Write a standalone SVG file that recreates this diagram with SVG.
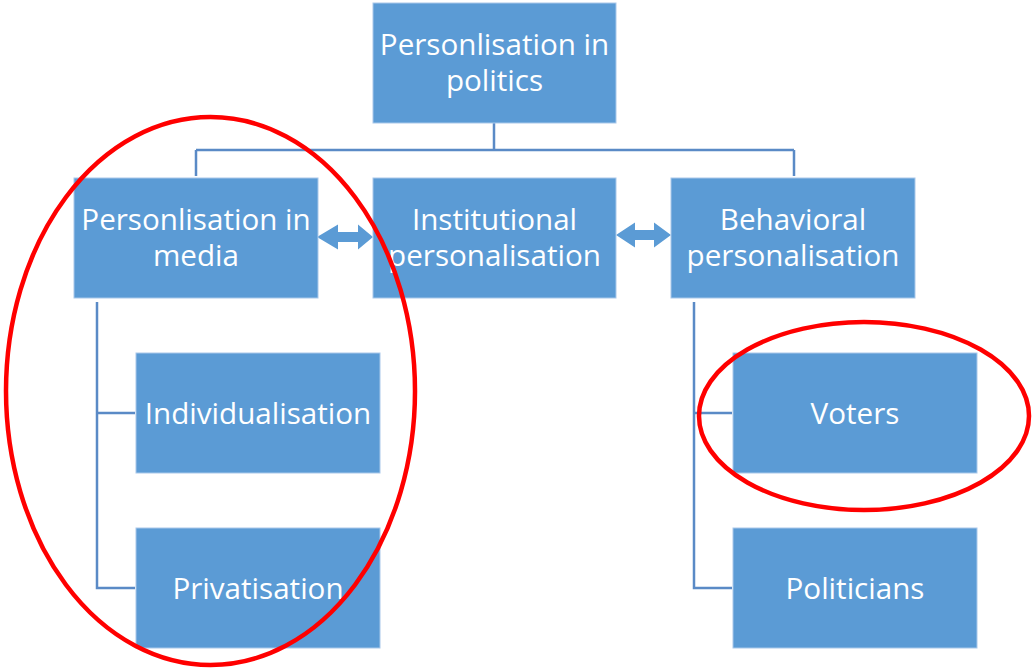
<svg xmlns="http://www.w3.org/2000/svg" width="1032" height="668" viewBox="0 0 1032 668">
<style>
.box{fill:#5b9bd5;stroke:#a9c8ea;stroke-width:1}
.lbl{font-family:"Open Sans","Noto Sans","Liberation Sans",sans-serif;font-size:29.6px;fill:#ffffff;text-anchor:middle}
.conn{fill:none;stroke:#5a8ac6;stroke-width:2.5}
.dbl{fill:#5b9bd5}
.hl{fill:none;stroke:#ff0000;stroke-width:4.5}
</style>
<rect width="1032" height="668" fill="#ffffff"/>
<g id="connectors">
<path class="conn" d="M494 123 V150 M196 150 H794 M196 150 V176 M794 150 V176"/>
<path class="conn" d="M97 302 V588 H135 M97 413 H135"/>
<path class="conn" d="M694 302 V588 H732 M694 413 H732"/>
<polygon class="dbl" points="317,237 338,224.5 338,232 358,232 358,224.5 373,237 358,249.5 358,242 338,242 338,249.5"/>
<polygon class="dbl" points="616,235 635,222.5 635,230 654,230 654,222.5 671,235 654,247.5 654,240 635,240 635,247.5"/>
</g>
<g id="node-politics">
<rect class="box" x="373" y="3" width="243" height="120"/>
<text class="lbl"><tspan x="494.5" y="55">Personlisation in</tspan><tspan x="494.5" y="91">politics</tspan></text>
</g>
<g id="node-media">
<rect class="box" x="74" y="178" width="244" height="120"/>
<text class="lbl"><tspan x="196" y="230">Personlisation in</tspan><tspan x="196" y="266">media</tspan></text>
</g>
<g id="node-institutional">
<rect class="box" x="373" y="178" width="243" height="120"/>
<text class="lbl"><tspan x="494.5" y="230">Institutional</tspan><tspan x="494.5" y="266">personalisation</tspan></text>
</g>
<g id="node-behavioral">
<rect class="box" x="671" y="178" width="244" height="120"/>
<text class="lbl"><tspan x="793" y="230">Behavioral</tspan><tspan x="793" y="266">personalisation</tspan></text>
</g>
<g id="node-individualisation">
<rect class="box" x="136" y="353" width="244" height="120"/>
<text class="lbl" x="258" y="424">Individualisation</text>
</g>
<g id="node-privatisation">
<rect class="box" x="136" y="528" width="244" height="120"/>
<text class="lbl" x="258" y="599">Privatisation</text>
</g>
<g id="node-voters">
<rect class="box" x="733" y="353" width="244" height="120"/>
<text class="lbl" x="855" y="424">Voters</text>
</g>
<g id="node-politicians">
<rect class="box" x="733" y="528" width="244" height="120"/>
<text class="lbl" x="855" y="599">Politicians</text>
</g>
<g id="highlights">
<ellipse class="hl" cx="210.5" cy="391" rx="204.5" ry="274"/>
<ellipse class="hl" cx="864" cy="416" rx="165" ry="94"/>
</g>
</svg>
